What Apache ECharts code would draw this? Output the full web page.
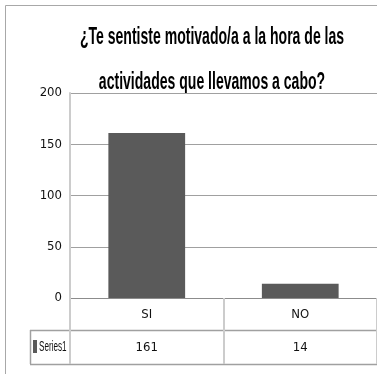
<!DOCTYPE html>
<html>
<head>
<meta charset="utf-8">
<script src="https://cdn.jsdelivr.net/npm/echarts@6/dist/echarts.min.js"></script>
<style>
  html, body { margin: 0; padding: 0; background: #fff; }
  #chart { width: 377px; height: 374px; }
</style>
</head>
<body>
<div id="chart"></div>
<script>
// Survey answers
const titleLines = ['¿Te sentiste motivado/a a la hora de las', 'actividades que llevamos a cabo?'];
const categories = ['SI', 'NO'];
const seriesName = 'Series1';
const values = [161, 14];
const yMin = 0;
const yMax = 200;
const yInterval = 50;

const FONT = '"Liberation Sans", Arial, sans-serif';
const NARROW = '"DejaVu Sans Condensed", "Liberation Sans", sans-serif';

// Plot area and the data table rows underneath it
const plot = { left: 70, top: 93, width: 312, height: 205 };
const axisY = plot.top + plot.height;   // baseline of the bars
const row1 = 32;                        // category row height
const row2 = 34;                        // value row height
const tableLeft = 30;

const chart = echarts.init(document.getElementById('chart'), null, { renderer: 'canvas' });

// Condensed heading text, centred over the plot
const titleCenterX = 212;
const titleElements = titleLines.map(function (line, i) {
  return {
    type: 'text',
    silent: true,
    x: titleCenterX,
    y: 37 + i * 45,
    scaleX: 0.585,
    style: {
      text: line,
      align: 'center',
      verticalAlign: 'middle',
      fontFamily: FONT,
      fontWeight: 'bold',
      fontSize: 24,
      fill: '#000000'
    }
  };
});

chart.setOption({
  animation: false,
  backgroundColor: '#ffffff',
  grid: {
    left: plot.left,
    top: plot.top,
    width: plot.width,
    height: plot.height,
    containLabel: false
  },
  xAxis: [
    {
      type: 'category',
      data: categories,
      axisLine: { show: true, lineStyle: { color: '#8c8c8c', width: 1 } },
      axisTick: {
        show: true,
        interval: 0,
        length: row1 + row2,
        lineStyle: { color: '#cccccc', width: 2 }
      },
      axisLabel: {
        margin: 10,
        fontFamily: NARROW,
        fontSize: 13,
        color: '#111111'
      },
      splitLine: { show: false }
    },
    {
      type: 'category',
      position: 'bottom',
      offset: row1,
      data: values.map(String),
      axisLine: { show: false },
      axisTick: { show: false },
      axisLabel: {
        margin: 11,
        fontFamily: NARROW,
        fontSize: 13,
        color: '#111111'
      }
    }
  ],
  yAxis: {
    type: 'value',
    min: yMin,
    max: yMax,
    interval: yInterval,
    axisLine: { show: true, lineStyle: { color: '#cccccc', width: 2 } },
    axisTick: { show: false },
    axisLabel: {
      margin: 8,
      fontFamily: NARROW,
      fontSize: 13,
      color: '#111111'
    },
    splitLine: { show: true, lineStyle: { color: '#a0a0a0', width: 1 } }
  },
  series: [
    {
      name: seriesName,
      type: 'bar',
      xAxisIndex: 0,
      data: values,
      barWidth: '50%',
      itemStyle: { color: '#5a5a5a' }
    }
  ],
  graphic: titleElements.concat([
    // outer chart frame
    {
      type: 'rect',
      silent: true,
      z: -10,
      shape: { x: 5.5, y: 5.5, width: 420, height: 420 },
      style: { fill: 'none', stroke: '#a8a8a8', lineWidth: 1 }
    },
    // data table rules
    {
      type: 'line',
      silent: true,
      shape: { x1: tableLeft, y1: axisY + row1 + 0.5, x2: 400, y2: axisY + row1 + 0.5 },
      style: { stroke: '#a0a0a0', lineWidth: 1.5 }
    },
    {
      type: 'line',
      silent: true,
      shape: { x1: tableLeft, y1: axisY + row1 + row2 + 0.5, x2: 400, y2: axisY + row1 + row2 + 0.5 },
      style: { stroke: '#a0a0a0', lineWidth: 1.5 }
    },
    {
      type: 'line',
      silent: true,
      shape: { x1: tableLeft + 0.5, y1: axisY + row1, x2: tableLeft + 0.5, y2: axisY + row1 + row2 },
      style: { stroke: '#a0a0a0', lineWidth: 1.5 }
    },
    // series key in the table's header cell
    {
      type: 'rect',
      silent: true,
      shape: { x: 33, y: axisY + row1 + 10, width: 4, height: 13 },
      style: { fill: '#5a5a5a' }
    },
    {
      type: 'text',
      silent: true,
      x: 39,
      y: axisY + row1 + row2 / 2,
      scaleX: 0.58,
      style: {
        text: seriesName,
        align: 'left',
        verticalAlign: 'middle',
        fontFamily: FONT,
        fontSize: 14,
        fill: '#111111'
      }
    }
  ])
});
</script>
</body>
</html>
